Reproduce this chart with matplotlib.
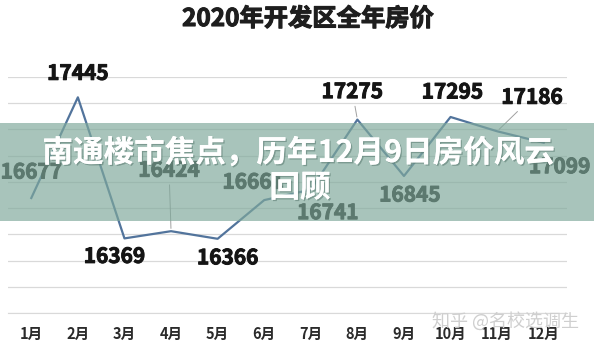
import numpy as np
import matplotlib.pyplot as plt
import matplotlib.patheffects as pe
from matplotlib.patches import Rectangle

plt.rcParams['font.family'] = ['Noto Sans CJK SC', 'DejaVu Sans']

# data
months = ['1月', '2月', '3月', '4月', '5月', '6月', '7月', '8月', '9月', '10月', '11月', '12月']
prices = [16677, 17445, 16369, 16424, 16366, 16661, 16741, 17275, 16845, 17295, 17186, 17099]
# label offsets (pixels) and which labels have leader lines
label_dx = [0, 0, -10, -2, 10, -11, 17, -5, 6, 2, 35, 16]
label_dy = [26, 24, -18, 61, -19, 18, -23, 28, -19, 25, 34, -24]
leaders = [3, 7, 10]

title = '2020年开发区全年房价'
banner1 = '南通楼市焦点，历年12月9日房价风云'
banner2 = '回顾'

fig = plt.figure(figsize=(5.94, 3.45), dpi=100)
ax = fig.add_axes([8/594, 32/345, 559/594, 236/345])
x = np.arange(len(months))
ax.plot(x, prices, color='#52749c', lw=1.6, zorder=3)
ax.set_xlim(-0.5, len(months) - 0.5)
ax.set_ylim(15800, 17600)
ax.set_yticks(np.arange(15800, 17601, 200))
ax.grid(axis='y', color='#d9d9d9', lw=0.9)
ax.set_axisbelow(True)
for s in ['top', 'right', 'left']:
    ax.spines[s].set_visible(False)
ax.spines['bottom'].set_color('#d9d9d9')
ax.tick_params(axis='y', left=False, labelleft=False)
ax.tick_params(axis='x', length=0, pad=9)
ax.set_xticks(x)
ax.set_xticklabels(months, fontsize=10.5, fontweight='bold', color='#2b2b2b')

# a thin stroke makes the bold digits a bit heavier, like the original
thick = [pe.withStroke(linewidth=0.7, foreground='#151515')]
for i, v in enumerate(prices):
    ap = None
    if i in leaders:
        ap = dict(arrowstyle='-', color='#a0a0a0', lw=0.7, shrinkA=1, shrinkB=2)
    ax.annotate(str(v), (x[i], v), xytext=(label_dx[i], label_dy[i]),
                textcoords='offset pixels', ha='center', va='center',
                fontsize=15, fontweight='bold', color='#151515',
                arrowprops=ap, zorder=4, path_effects=thick)

fig.text(0.518, 1 - 19/345, title, ha='center', va='center',
         fontsize=17.5, fontweight='bold', color='#1e1e1e',
         path_effects=[pe.withStroke(linewidth=0.8, foreground='#1e1e1e')])

fig.text(505/594, 1 - 321/345, '知乎 @名校选调生', ha='center', va='center',
         fontsize=13, color='#cfcfcf', zorder=5)

# banner overlay
fig.patches.append(Rectangle((0, 1 - 221/345), 1, 98/345, transform=fig.transFigure,
                             facecolor='#7fa99b', alpha=0.68, edgecolor='none', zorder=10))
shadow = [pe.withSimplePatchShadow(offset=(1, -1), shadow_rgbFace='#5f7f75', alpha=0.6), pe.Normal()]
fig.text(0.502, 1 - 153/345, banner1, ha='center', va='center', fontsize=22,
         fontweight='bold', color='white', zorder=11, path_effects=shadow)
fig.text(0.505, 1 - 188/345, banner2, ha='center', va='center', fontsize=22,
         fontweight='bold', color='white', zorder=11, path_effects=shadow)

fig.savefig('out.png', dpi=100)
